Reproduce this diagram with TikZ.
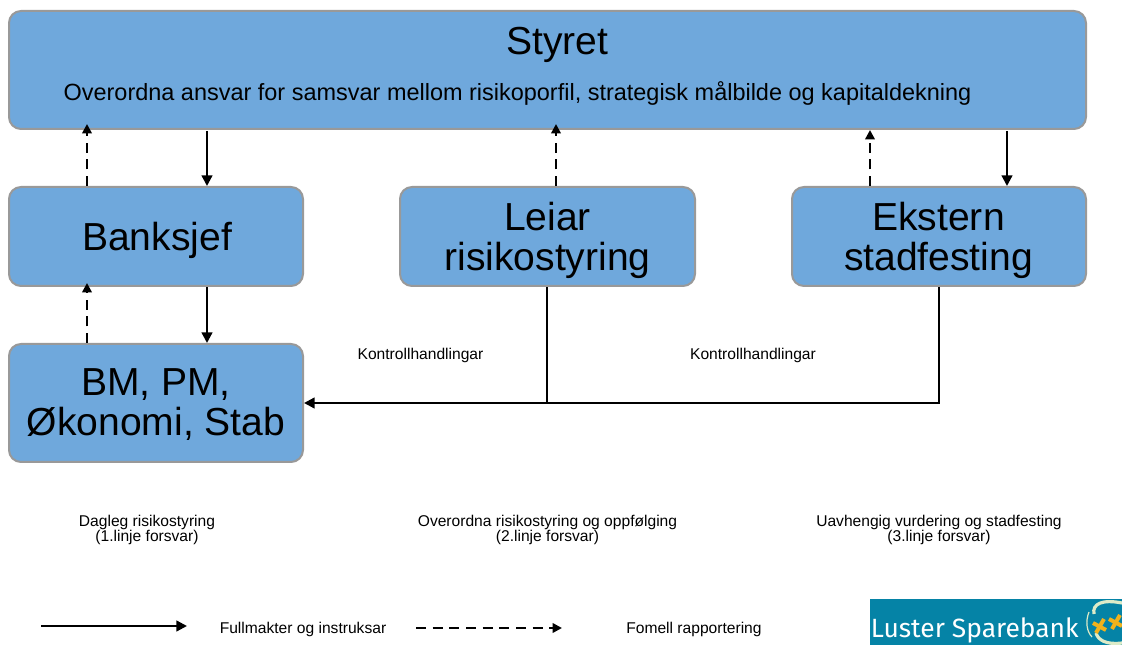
\documentclass[tikz,border=0pt]{standalone}
\usepackage{fontspec}
\setmainfont{Liberation Sans}
\newfontfamily\logofont{Fira Sans}
\usetikzlibrary{arrows.meta}
\definecolor{boxblue}{HTML}{6FA8DC}
\definecolor{boxedge}{HTML}{999999}
\definecolor{logoteal}{HTML}{0583A6}
\definecolor{logocream}{HTML}{DDEBC8}
\definecolor{logostar}{HTML}{F2B21B}
\tikzset{
  x=0.75pt,y=-0.75pt,
  panel/.style={draw=boxedge,fill=boxblue,line width=1.5pt,rounded corners=9pt,inner sep=0pt,align=center},
  paneltext/.style={inner sep=0pt,align=center,font=\fontsize{29.3}{30}\selectfont},
  solidlink/.style={draw=black,line width=1.7pt,-{Triangle[length=8pt,width=8pt]}},
  dashlink/.style={draw=black,line width=2pt,dash pattern=on 7.5pt off 5pt,-{Triangle[length=7pt,width=7pt]}},
  plainlink/.style={draw=black,line width=1.7pt},
  small/.style={inner sep=0pt,align=center,font=\fontsize{11.7}{11.7}\selectfont},
}
\begin{document}
\begin{tikzpicture}
\useasboundingbox (0,0) rectangle (1122,645);
% boxes
\node[panel,minimum width=1077*0.75pt,minimum height=118*0.75pt] (styret) at (547.5,70) {};
\node[panel,minimum width=294*0.75pt,minimum height=99*0.75pt] (bank) at (156,236.5) {};
\node[panel,minimum width=295*0.75pt,minimum height=99*0.75pt] (leiar) at (547.5,236.5) {};
\node[panel,minimum width=294*0.75pt,minimum height=99*0.75pt] (ekstern) at (939,236.5) {};
\node[panel,minimum width=294*0.75pt,minimum height=118*0.75pt] (bm) at (156,403) {};
\node[paneltext] (banktext) at (157,240) {Banksjef};
\node[paneltext] (leiartext) at (547.5,240.5) {Leiar\\risikostyring};
\node[paneltext] (eksterntext) at (938.5,240.5) {Ekstern\\stadfesting};
\node[paneltext] (bmtext) at (156,405) {BM, PM,\\Økonomi, Stab};
\node[paneltext] (styrettitle) at (557.5,45) {Styret};
\node[inner sep=0pt,font=\fontsize{17.6}{20}\selectfont] (styretsub) at (517.5,93.5) {Overordna ansvar for samsvar mellom risikoporfil, strategisk målbilde og kapitaldekning};
% connector columns
\coordinate (c1) at (87,0);
\coordinate (c2) at (207,0);
\coordinate (c3) at (556,0);
\coordinate (c4) at (870,0);
\coordinate (c5) at (1007,0);
\coordinate (t1) at (0,124);
\coordinate (t2) at (0,131);
\coordinate (t3) at (0,283);
\coordinate (t4) at (0,287);
\coordinate (j1) at (547,403);
\coordinate (j2) at (939,403);
\draw[dashlink] (bank.north -| c1) -- (c1 |- t1);
\draw[solidlink] (c2 |- t2) -- (bank.north -| c2);
\draw[dashlink] (leiar.north -| c3) -- (c3 |- t1);
\draw[dashlink] (ekstern.north -| c4) -- (c4 |- styret.south);
\draw[solidlink] (c5 |- t2) -- (ekstern.north -| c5);
\draw[dashlink] (bm.north -| c1) -- (c1 |- t3);
\draw[solidlink] (c2 |- t4) -- (bm.north -| c2);
\draw[plainlink] (leiar.south -| j1) -- (j1);
\draw[solidlink] (ekstern.south -| j2) -- (j2) -- (bm.east |- j2);
% labels
\node[small] (k1) at (420.5,355) {Kontrollhandlingar};
\node[small] (k2) at (753,355) {Kontrollhandlingar};
\node[small] (l1) at (147,530) {Dagleg risikostyring\\(1.linje forsvar)};
\node[small] (l2) at (547.5,530) {Overordna risikostyring og oppfølging\\(2.linje forsvar)};
\node[small] (l3) at (939,530) {Uavhengig vurdering og stadfesting\\(3.linje forsvar)};
% legend
\coordinate (la) at (41,626);
\coordinate (lb) at (187,626);
\coordinate (lc) at (416,628);
\coordinate (ld) at (562,628);
\draw[solidlink] (la) -- (lb);
\draw[dashlink] (lc) -- (ld);
\node[small] (f1) at (303,629.5) {Fullmakter og instruksar};
\node[small] (f2) at (694,629.5) {Fomell rapportering};
% logo
\begin{scope}
\clip (870,599) rectangle (1122,645);
\fill[logoteal] (870,599) rectangle (1122,645);
\draw[logocream,line width=0.9pt] (1089,612) .. controls (1085,622) and (1087,632) .. (1092,637);
\draw[logocream,line width=2.4pt] (1094,614) .. controls (1092,604) and (1102,599) .. (1122,603);
\draw[logocream,line width=2.4pt] (1096,633) .. controls (1098,640) and (1106,645) .. (1122,643);
\foreach \cx/\cy in {1100/626,1116/622}{
  \draw[logostar,line width=3pt] (\cx-7,\cy-3) -- (\cx+6,\cy+4);
  \draw[logostar,line width=3pt] (\cx-4,\cy+7) -- (\cx+4,\cy-7);
}
\end{scope}
\node[inner sep=0pt,anchor=west,text=white,font=\logofont\fontsize{19.8}{20}\selectfont] (logotext) at (870.5,630) {Luster Sparebank};
\end{tikzpicture}
\end{document}
